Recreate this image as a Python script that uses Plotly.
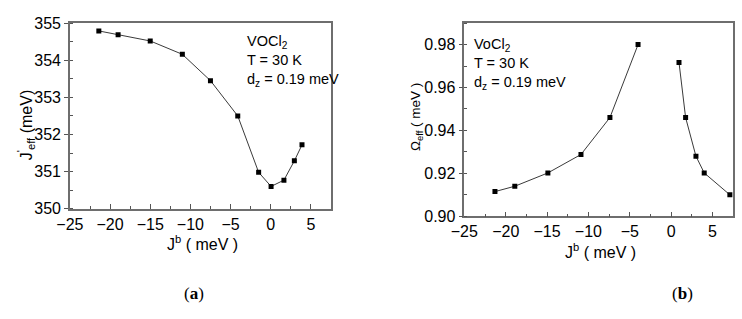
import plotly.graph_objects as go

# Panel (a): J'_eff vs J^b
ja_x = [-21.4, -19.0, -15.0, -11.0, -7.5, -4.1, -1.5, 0.05, 1.65, 2.95, 3.9]
ja_y = [354.79, 354.69, 354.52, 354.16, 353.45, 352.50, 350.98, 350.60, 350.77, 351.29, 351.72]

# Panel (b): Omega_eff vs J^b (two separate branches)
ob_left_x = [-21.3, -18.9, -14.9, -10.9, -7.4, -4.0]
ob_left_y = [0.9115, 0.9140, 0.9202, 0.9288, 0.9460, 0.9800]
ob_right_x = [0.95, 1.75, 3.0, 4.0, 7.1]
ob_right_y = [0.9717, 0.9460, 0.9280, 0.9202, 0.9100]

x_tickvals = [-25, -20, -15, -10, -5, 0, 5]
x_ticktext = ["\u221225", "\u221220", "\u221215", "\u221210", "\u22125", "0", "5"]
yb_tickvals = [0.90, 0.92, 0.94, 0.96, 0.98]
yb_ticktext = ["0.90", "0.92", "0.94", "0.96", "0.98"]

FONT = "Liberation Sans, Arial, sans-serif"
LINE_COL = "#3a3a3a"
FRAME_COL = "#6e6e6e"
TICK_COL = "#555555"

fig = go.Figure()

marker = dict(symbol="square", size=5, color="black")
line = dict(color=LINE_COL, width=1)

fig.add_trace(go.Scatter(x=ja_x, y=ja_y, mode="lines+markers", marker=marker, line=line,
                         xaxis="x", yaxis="y", showlegend=False))
fig.add_trace(go.Scatter(x=ob_left_x, y=ob_left_y, mode="lines+markers", marker=marker, line=line,
                         xaxis="x2", yaxis="y2", showlegend=False))
fig.add_trace(go.Scatter(x=ob_right_x, y=ob_right_y, mode="lines+markers", marker=marker, line=line,
                         xaxis="x2", yaxis="y2", showlegend=False))

W, H = 742, 319

def xd(a, b):
    return [a / W, b / W]

def yd(top, bottom):
    return [1 - bottom / H, 1 - top / H]

tickfont = dict(family=FONT, size=16, color="black")

xaxis_common = dict(range=[-25, 7.5], tickvals=x_tickvals, ticktext=x_ticktext,
                    ticks="inside", ticklen=5, tickcolor=TICK_COL, tickwidth=1,
                    minor=dict(dtick=2.5, tick0=0, ticks="inside", ticklen=3, tickcolor=TICK_COL),
                    showline=True, linecolor=FRAME_COL, linewidth=1.5, mirror=True,
                    showgrid=False, zeroline=False, tickfont=tickfont)

yaxis_common = dict(ticks="outside", ticklen=4, tickcolor=TICK_COL,
                    showline=True, linecolor=FRAME_COL, linewidth=1.5, mirror=True,
                    showgrid=False, zeroline=False, tickfont=tickfont)

fig.update_layout(
    width=W, height=H,
    margin=dict(l=0, r=0, t=0, b=0),
    paper_bgcolor="white", plot_bgcolor="white",
    xaxis=dict(domain=xd(57, 323), anchor="y", **xaxis_common),
    yaxis=dict(domain=yd(16, 212), anchor="x", range=[350, 355], dtick=1,
               minor=dict(dtick=0.5, ticks="inside", ticklen=3, tickcolor=TICK_COL),
               **yaxis_common),
    xaxis2=dict(domain=xd(459, 733), anchor="y2", **xaxis_common),
    yaxis2=dict(domain=yd(16, 220), anchor="x2", range=[0.90, 0.99],
                tickvals=yb_tickvals, ticktext=yb_ticktext,
                minor=dict(dtick=0.01, tick0=0.90, ticks="inside", ticklen=3, tickcolor=TICK_COL),
                **yaxis_common),
)

ann = []
def txt(x, y, s, size=16, family=FONT, xanchor="left", yanchor="middle", angle=0, align="left"):
    ann.append(dict(x=x / W, y=1 - y / H, xref="paper", yref="paper", text=s, showarrow=False,
                    xanchor=xanchor, yanchor=yanchor, textangle=angle, align=align,
                    borderpad=0,
                    font=dict(family=family, size=size, color="black")))

# Inset texts (single block each)
txt(236, 25, "VOCl<sub>2</sub><br>T = 30 K<br>d<sub>z</sub> = 0.19 meV", size=14.5, yanchor="top")
txt(468, 28, "VoCl<sub>2</sub><br>T = 30 K<br>d<sub>z</sub> = 0.19 meV", size=14.5, yanchor="top")

# Axis titles
txt(192, 248, "J<sup>b</sup> ( meV )", xanchor="center")
txt(598, 257, "J<sup>b</sup> ( meV )", xanchor="center")
txt(13, 124, "J<sup>'</sup><sub>eff</sub> (meV)", xanchor="center", angle=-90)
txt(411, 115, "\u03a9<sub>eff</sub> ( meV )", size=13.5, xanchor="center", angle=-90)

# Panel labels
SERIF = "Liberation Serif, Times New Roman, serif"
txt(183, 302, "(<b>a</b>)", size=17, family=SERIF, xanchor="center")
txt(681, 302, "(<b>b</b>)", size=17, family=SERIF, xanchor="center")

fig.update_layout(annotations=ann)

fig.write_html("out.html")
